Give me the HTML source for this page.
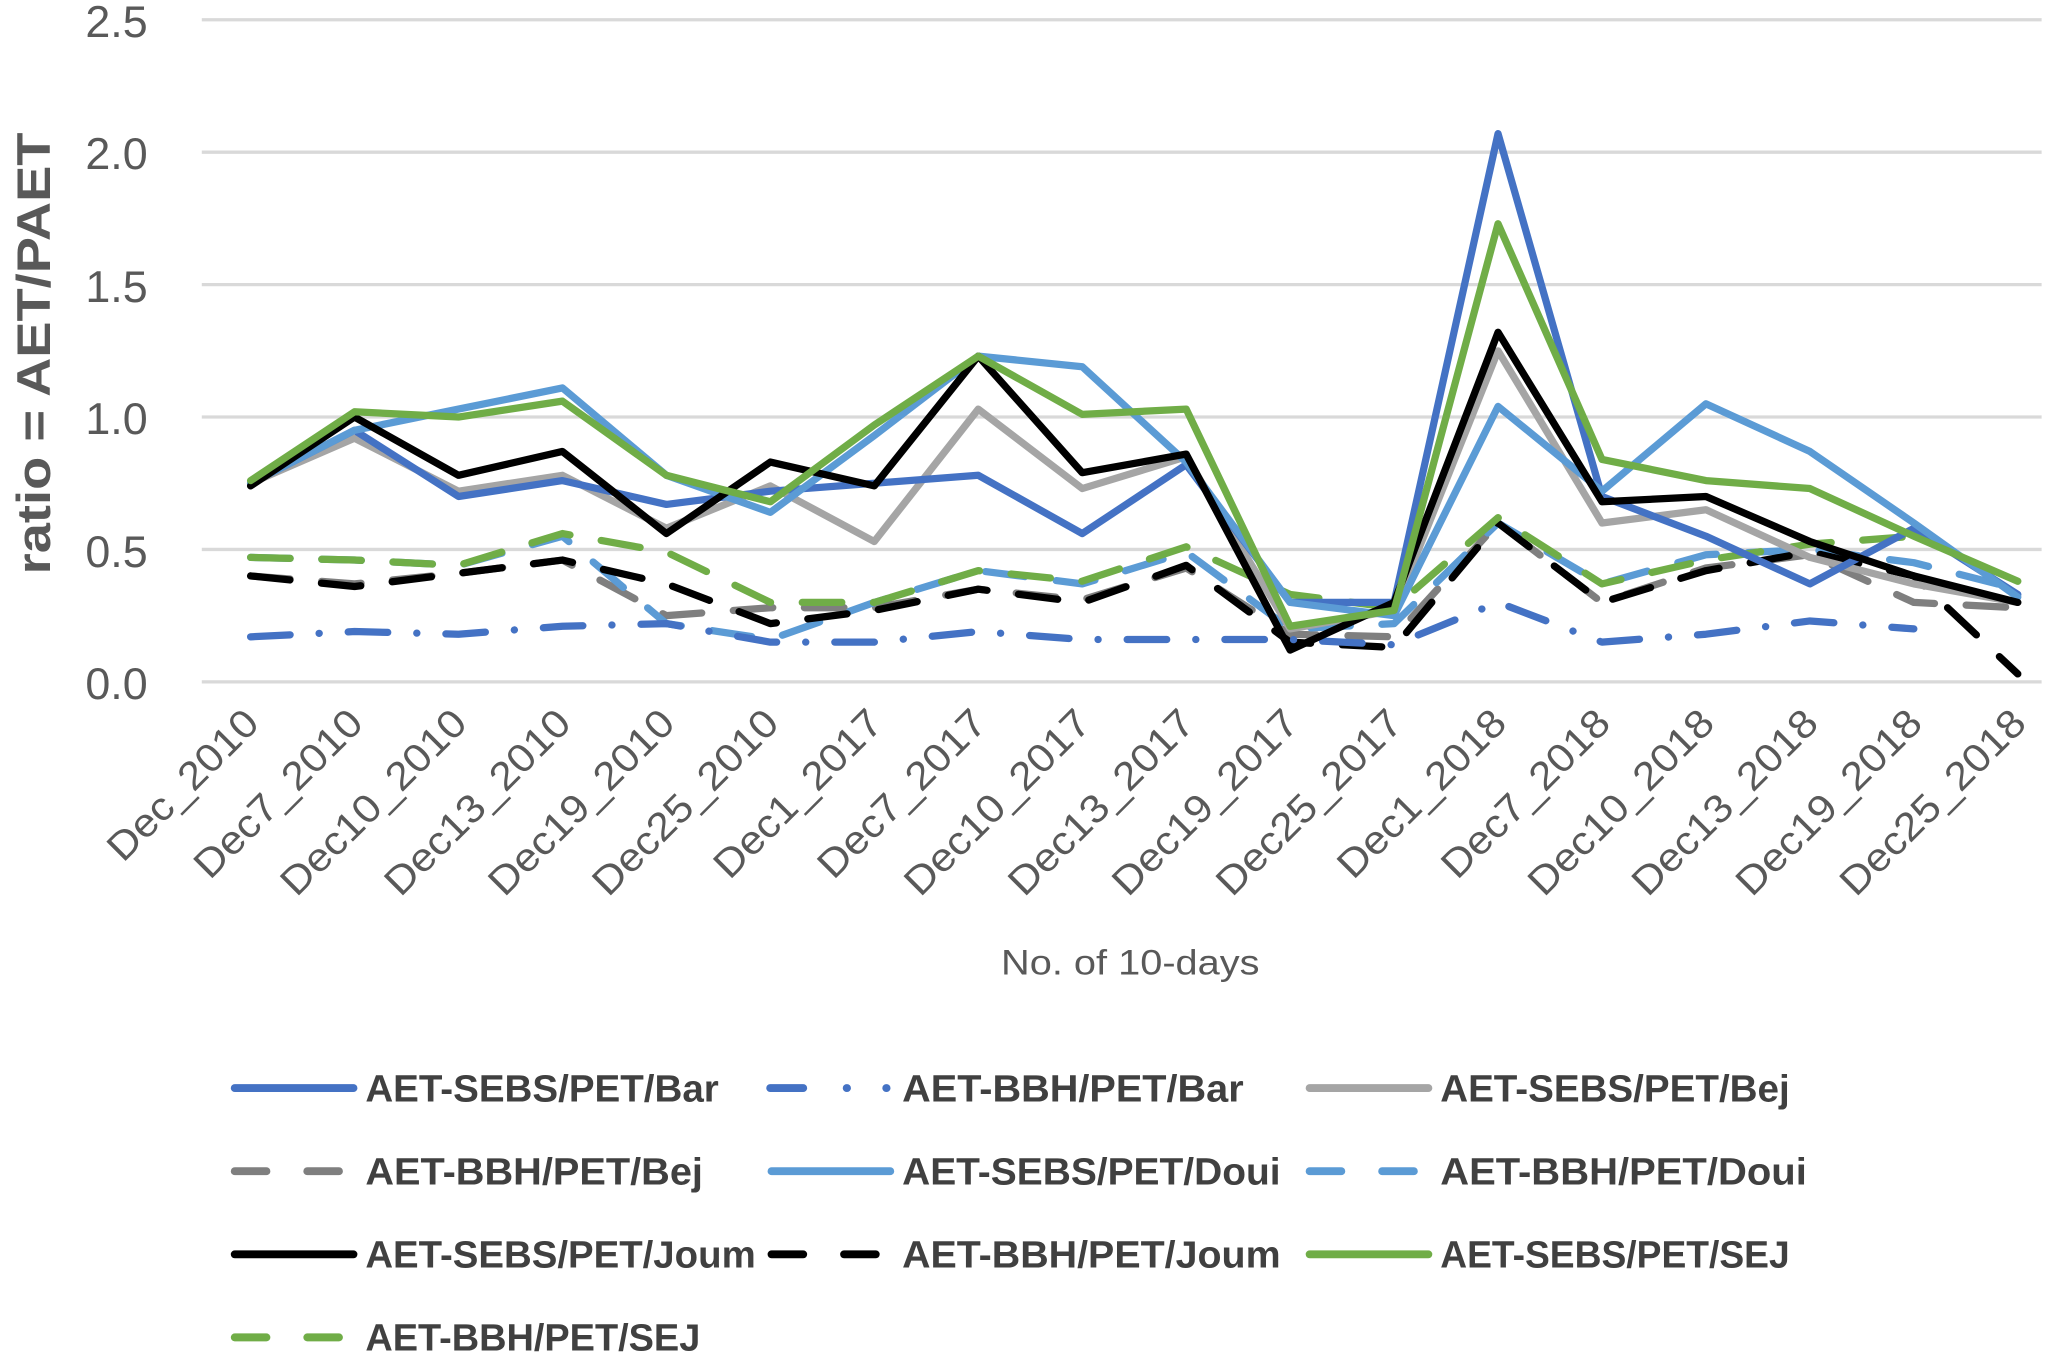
<!DOCTYPE html>
<html><head><meta charset="utf-8"><style>html,body{margin:0;padding:0;background:#fff}svg{display:block}</style></head>
<body>
<svg width="2068" height="1359" viewBox="0 0 1568 1030.4" preserveAspectRatio="none" xmlns="http://www.w3.org/2000/svg" font-family="Liberation Sans, sans-serif">
<g stroke="#d9d9d9" stroke-width="2.5">
<line x1="153" x2="1548" y1="15" y2="15"/><line x1="153" x2="1548" y1="115.4" y2="115.4"/><line x1="153" x2="1548" y1="215.8" y2="215.8"/><line x1="153" x2="1548" y1="316.2" y2="316.2"/><line x1="153" x2="1548" y1="416.6" y2="416.6"/><line x1="153" x2="1548" y1="517" y2="517"/>
</g>
<g fill="#595959" font-size="34" text-anchor="end">
<text x="112" y="28">2.5</text><text x="112" y="128">2.0</text><text x="112" y="229">1.5</text><text x="112" y="329">1.0</text><text x="112" y="430">0.5</text><text x="112" y="530">0.0</text>
</g>
<text transform="translate(38,268) rotate(-90)" text-anchor="middle" font-weight="bold" font-size="36" fill="#595959" textLength="335" lengthAdjust="spacingAndGlyphs">ratio = AET/PAET</text>
<text x="857" y="739" text-anchor="middle" font-size="27" fill="#595959" textLength="196" lengthAdjust="spacingAndGlyphs">No. of 10-days</text>
<g id="xl" fill="#595959" font-size="30" text-anchor="end"></g>
<g id="series" fill="none" stroke-width="5.5" stroke-linejoin="round" stroke-linecap="round"></g>
<g id="leg"></g>
</svg>
<script>
const x=i=>190+i*78.82, y=v=>517-200.8*v;
const labels=["Dec_2010","Dec7_2010","Dec10_2010","Dec13_2010","Dec19_2010","Dec25_2010","Dec1_2017","Dec7_2017","Dec10_2017","Dec13_2017","Dec19_2017","Dec25_2017","Dec1_2018","Dec7_2018","Dec10_2018","Dec13_2018","Dec19_2018","Dec25_2018"];
const NS="http://www.w3.org/2000/svg";
const xl=document.getElementById('xl');
labels.forEach((l,i)=>{const t=document.createElementNS(NS,'text');t.setAttribute('transform',`translate(${x(i)+8},${550}) rotate(-45)`);t.setAttribute('textLength',l.length*18.5);t.setAttribute('lengthAdjust','spacingAndGlyphs');t.textContent=l;xl.appendChild(t);});
const S=[
["#7f7f7f","30 24",[0.40,0.37,0.41,0.46,0.25,0.28,0.28,0.35,0.31,0.43,0.18,0.17,0.60,0.30,0.43,0.48,0.30,0.28]],
["#5b9bd5","30 24",[0.47,0.46,0.44,0.55,0.22,0.16,0.30,0.42,0.37,0.49,0.20,0.22,0.60,0.37,0.48,0.50,0.45,0.35]],
["#000000","30 24",[0.40,0.36,0.41,0.46,0.37,0.22,0.27,0.35,0.30,0.44,0.15,0.13,0.60,0.30,0.42,0.49,0.40,0.03]],
["#70ad47","30 24",[0.47,0.46,0.44,0.56,0.49,0.30,0.30,0.42,0.38,0.51,0.33,0.28,0.62,0.37,0.46,0.52,0.55]],
["#4472c4","30 22 0.1 22",[0.17,0.19,0.18,0.21,0.22,0.15,0.15,0.19,0.16,0.16,0.16,0.14,0.30,0.15,0.18,0.23,0.20]],
["#a5a5a5","",[0.75,0.92,0.72,0.78,0.58,0.74,0.53,1.03,0.73,0.85,0.20,0.27,1.25,0.60,0.65,0.47,0.37,0.30]],
["#4472c4","",[0.75,0.95,0.70,0.76,0.67,0.72,0.75,0.78,0.56,0.82,0.30,0.30,2.07,0.70,0.55,0.37,0.58,0.33]],
["#5b9bd5","",[0.75,0.95,1.03,1.11,0.78,0.64,0.93,1.23,1.19,0.83,0.30,0.25,1.04,0.72,1.05,0.87,0.60,0.32]],
["#000000","",[0.74,1.00,0.78,0.87,0.56,0.83,0.74,1.23,0.79,0.86,0.12,0.30,1.32,0.68,0.70,0.53,0.40,0.30]],
["#70ad47","",[0.76,1.02,1.00,1.06,0.78,0.68,0.97,1.23,1.01,1.03,0.21,0.27,1.73,0.84,0.76,0.73,0.55,0.38]]
];
const g=document.getElementById('series');
S.forEach(s=>{const p=document.createElementNS(NS,'polyline');p.setAttribute('points',s[2].map((v,i)=>x(i)+','+y(v)).join(' '));p.setAttribute('stroke',s[0]);if(s[1])p.setAttribute('stroke-dasharray',s[1]);g.appendChild(p);});
const L=[
["#4472c4","","AET-SEBS/PET/Bar",0,0,268],["#4472c4","dd","AET-BBH/PET/Bar",1,0,259],["#a5a5a5","","AET-SEBS/PET/Bej",2,0,265],
["#7f7f7f","d","AET-BBH/PET/Bej",0,1,256],["#5b9bd5","","AET-SEBS/PET/Doui",1,1,287],["#5b9bd5","d","AET-BBH/PET/Doui",2,1,278],
["#000000","","AET-SEBS/PET/Joum",0,2,296],["#000000","d","AET-BBH/PET/Joum",1,2,287],["#70ad47","","AET-SEBS/PET/SEJ",2,2,265],
["#70ad47","d","AET-BBH/PET/SEJ",0,3,254]];
const cols=[[178,268,277],[585,675,684],[993,1083,1092]];
const lg=document.getElementById('leg');
function seg(x1,x2,yy,col){const ln=document.createElementNS(NS,'line');ln.setAttribute('x1',x1);ln.setAttribute('x2',x2);ln.setAttribute('y1',yy);ln.setAttribute('y2',yy);ln.setAttribute('stroke',col);ln.setAttribute('stroke-width',6);ln.setAttribute('stroke-linecap','round');lg.appendChild(ln);}
L.forEach(l=>{const c=cols[l[3]],yy=825+l[4]*63;
 if(l[1]=='d'){seg(c[0],c[0]+24,yy,l[0]);seg(c[0]+55,c[0]+79,yy,l[0]);}
 else if(l[1]=='dd'){seg(c[0]-1,c[0]+24,yy,l[0]);seg(c[0]+57,c[0]+57.2,yy,l[0]);seg(c[0]+87,c[0]+87.2,yy,l[0]);}
 else seg(c[0],c[1],yy,l[0]);
 const t=document.createElementNS(NS,'text');t.setAttribute('x',c[2]);t.setAttribute('y',yy+10);t.setAttribute('font-size',29);t.setAttribute('font-weight','bold');t.setAttribute('fill','#404040');t.setAttribute('textLength',l[5]);t.setAttribute('lengthAdjust','spacingAndGlyphs');t.textContent=l[2];lg.appendChild(t);});
</script>
</body></html>
